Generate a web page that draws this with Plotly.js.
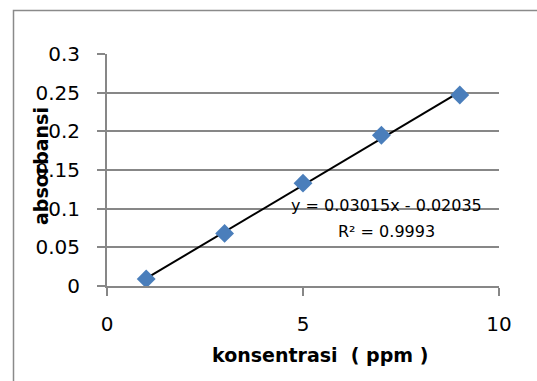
<!DOCTYPE html>
<html>
<head>
<meta charset="utf-8">
<script src="https://cdn.plot.ly/plotly-3.0.1.min.js"></script>
<style>html,body{margin:0;padding:0;background:#fff;}#chart{width:537px;height:381px;}</style>
</head>
<body>
<div id="chart"></div>
<script>
const konsentrasi = [1, 3, 5, 7, 9];
const absorbansi = [0.009, 0.068, 0.133, 0.195, 0.247];
const trendX = [1, 9];
const trendY = [0.0098, 0.2510];
const xTicks = [0, 5, 10];
const yTicks = [0, 0.05, 0.1, 0.15, 0.2, 0.25, 0.3];
const equationText = 'y = 0.03015x - 0.02035';
const r2Text = 'R² = 0.9993';
const xTitle = 'konsentrasi  ( ppm )';
const yTitle = 'absorbansi';

const gray = '#878787';
const font = 'DejaVu Sans, sans-serif';

const traces = [
  {
    x: trendX, y: trendY, type: 'scatter', mode: 'lines',
    line: {color: '#000000', width: 2}, hoverinfo: 'skip', showlegend: false
  },
  {
    x: konsentrasi, y: absorbansi, type: 'scatter', mode: 'markers',
    marker: {symbol: 'diamond', size: 14.5, color: '#4a7ebb', line: {width: 0}},
    showlegend: false
  }
];

const L = 107, T = 54, W = 392, H = 232;
function px2paperX(p) { return (p - L) / W; }
function px2paperY(p) { return (T + H - p) / H; }

const layout = {
  width: 537, height: 381,
  margin: {l: L, r: 537 - L - W, t: T, b: 381 - T - H, pad: 0},
  paper_bgcolor: '#ffffff', plot_bgcolor: '#ffffff',
  showlegend: false,
  font: {family: font, color: '#000000'},
  xaxis: {
    range: [0, 10], tickvals: xTicks, ticktext: xTicks.map(String),
    showgrid: false, zeroline: false,
    showline: true, linecolor: gray, linewidth: 2,
    ticks: 'outside', ticklen: 8, tickcolor: gray, tickwidth: 2,
    ticklabelstandoff: 11,
    tickfont: {family: font, size: 20, color: '#000'}
  },
  yaxis: {
    range: [0, 0.3], tickvals: yTicks, ticktext: yTicks.map(String),
    showgrid: true, gridcolor: gray, gridwidth: 2, zeroline: false,
    showline: true, linecolor: gray, linewidth: 2,
    ticks: 'outside', ticklen: 8, tickcolor: gray, tickwidth: 2,
    ticklabelstandoff: 13,
    tickfont: {family: font, size: 20, color: '#000'}
  },
  shapes: [
    {type: 'rect', xref: 'paper', yref: 'paper',
     x0: px2paperX(13.5), x1: px2paperX(560), y0: px2paperY(420), y1: px2paperY(10.5),
     line: {color: '#8a8a8a', width: 1.5}, fillcolor: 'rgba(0,0,0,0)', layer: 'below'}
  ],
  annotations: [
    {x: 7.12, y: 0.1035, xref: 'x', yref: 'y', text: equationText, showarrow: false,
     xanchor: 'center', yanchor: 'middle', font: {family: font, size: 16, color: '#000'}},
    {x: 7.12, y: 0.0702, xref: 'x', yref: 'y', text: r2Text, showarrow: false,
     xanchor: 'center', yanchor: 'middle', font: {family: font, size: 16, color: '#000'}},
    {x: px2paperX(320), y: px2paperY(355), xref: 'paper', yref: 'paper', text: '<b>' + xTitle + '</b>',
     showarrow: false, xanchor: 'center', yanchor: 'middle', font: {family: font, size: 19, color: '#000'}},
    {x: px2paperX(41), y: px2paperY(166), xref: 'paper', yref: 'paper', text: '<b>' + yTitle + '</b>',
     showarrow: false, textangle: -90, xanchor: 'center', yanchor: 'middle', font: {family: font, size: 19, color: '#000'}}
  ]
};

Plotly.newPlot('chart', traces, layout, {staticPlot: true, displayModeBar: false});
</script>
</body>
</html>
